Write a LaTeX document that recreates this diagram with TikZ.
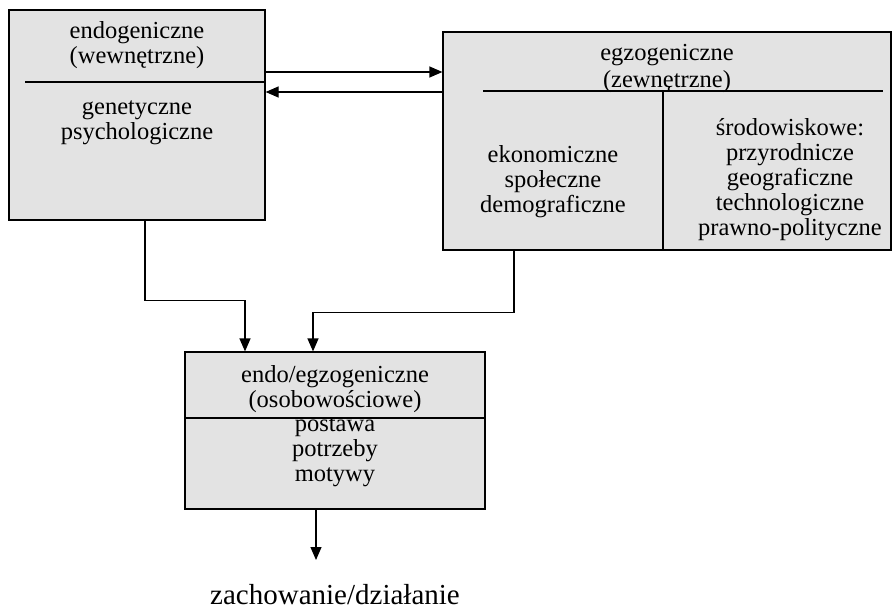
\documentclass[tikz,border=0pt]{standalone}
\usepackage{fontspec}
\setmainfont{Liberation Serif}
\usetikzlibrary{arrows.meta,positioning}
\tikzset{
  pole/.style={draw, line width=1.2pt, fill=black!11, inner sep=0pt},
  opis/.style={align=center, font=\fontsize{24.5}{25}\selectfont, inner sep=0pt},
  strz/.style={line width=1.2pt, -{Triangle[length=13pt,width=11pt]}},
  linia/.style={line width=1.2pt},
}
\begin{document}
\begin{tikzpicture}[x=1pt,y=-1pt]
        \useasboundingbox (0,0) rectangle (892,610);

        % Pola z czynnikami
        \node[pole, minimum width=256pt, minimum height=210pt] (endo) at (137,115) {};
        \node[pole, minimum width=448pt, minimum height=218pt] (egzo) at (667,141) {};
        \node[pole, minimum width=300pt, minimum height=157pt] (osob) at (335,430.5) {};

        % Linie podzialu
        \draw[linia] (25,82) -- (endo.east |- 0,82);
        \draw[linia] (483,91) -- (883,91);
        \draw[linia] (663,91) -- (egzo.south -| 663,0);
        \draw[linia] (osob.west |- 0,418) -- (osob.east |- 0,418);

        % Teksty
        \node[opis] (endotyt) at (137,45.5) {endogeniczne\\(wewnętrzne)};
        \node[opis] (endotr) at (137,122.5) {genetyczne\\psychologiczne};
        \node[opis, font=\fontsize{24.5}{27}\selectfont] (egzotyt) at (667,68.5) {egzogeniczne\\(zewnętrzne)};
        \node[opis] (egzolew) at (553,182) {ekonomiczne\\społeczne\\demograficzne};
        \node[opis] (egzopraw) at (790,179.5) {środowiskowe:\\przyrodnicze\\geograficzne\\technologiczne\\prawno-polityczne};
        \node[opis] (osobtyt) at (335,389.5) {endo/egzogeniczne\\(osobowościowe)};
        \node[opis] (osobtr) at (335,452) {postawa\\potrzeby\\motywy};
        \node[opis, font=\fontsize{29}{32}\selectfont, anchor=base] (wynik) at (335,604) {zachowanie/działanie};

        % Strzalki
        \draw[strz] (endo.east |- 0,72) -- (egzo.west |- 0,72);
        \draw[strz] (egzo.west |- 0,92) -- (endo.east |- 0,92);
        \draw[strz] ([xshift=8pt]endo.south) -- ++(0,80) -| ([xshift=-90pt]osob.north);
        \draw[strz] ([xshift=-153pt]egzo.south) -- ++(0,62) -| ([xshift=-22pt]osob.north);
        \coordinate (koniec) at (316,560);
        \draw[strz] (osob.south -| koniec) -- (koniec);
    \end{tikzpicture}
\end{document}
